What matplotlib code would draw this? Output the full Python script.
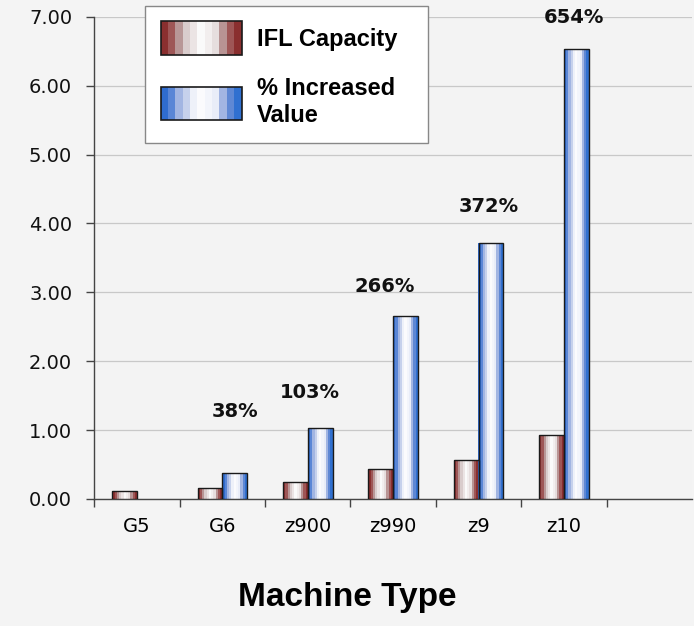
import matplotlib
matplotlib.use("Agg")
import matplotlib.pyplot as plt
import numpy as np
from matplotlib.legend_handler import HandlerBase
from matplotlib.patches import Patch, Rectangle

plt.rcParams["font.family"] = ["Liberation Sans", "DejaVu Sans"]

# данные
machines = ["G5", "G6", "z900", "z990", "z9", "z10"]
ifl_capacity = [0.11, 0.16, 0.24, 0.435, 0.57, 0.925]
increased_value = [np.nan, 0.38, 1.03, 2.66, 3.72, 6.54]
pct_labels = ["", "38%", "103%", "266%", "372%", "654%"]
series_names = ["IFL Capacity", "% Increased\nValue"]
y_ticks = [0, 1, 2, 3, 4, 5, 6, 7]

# смещения подписей процентов (пиксели) относительно верха столбца
label_offsets = [(0, 0), (0, 61), (-10, 35), (-21, 29), (-2, 36), (-2, 31)]

# полосатые "цилиндрические" заливки
red_stripes = ["#8a2f2f", "#9e5656", "#b89696", "#d9cccc", "#ebe4e4", "#fafafa",
               "#f2eeee", "#e6dede", "#b89494", "#9e5656", "#8a2f2f"]
blue_stripes = ["#2f6ccf", "#5a86d6", "#a2b5e2", "#c6d1ec", "#eef1f9", "#fbfbfd",
                "#f3f5fb", "#e9edf8", "#a2b5e2", "#5f88d4", "#3070d0"]

# в оригинале мелкий текст растянут по горизонтали -> берём более широкий шрифт
wide_font = ["DejaVu Sans"]


def striped_bars(ax, x, heights, width, colors):
    """Рисует столбцы из вертикальных полос + контур"""
    x = np.asarray(x, dtype=float)
    h = np.asarray(heights, dtype=float)
    ok = ~np.isnan(h)
    x, h = x[ok], h[ok]
    n = len(colors)
    sw = width / n
    for k, c in enumerate(colors):
        ax.bar(x - width / 2 + (k + 0.5) * sw, h, width=sw * 1.02, color=c,
               linewidth=0, zorder=3)
    ax.bar(x, h, width=width, fill=False, edgecolor="#1a1a1a", linewidth=1.0,
           zorder=4)


class StripeHandler(HandlerBase):
    def __init__(self, colors):
        super().__init__()
        self.colors = colors

    def create_artists(self, legend, orig_handle, xdescent, ydescent, width,
                       height, fontsize, trans):
        arts = []
        n = len(self.colors)
        sw = width / n
        for k, c in enumerate(self.colors):
            r = Rectangle((-xdescent + k * sw, -ydescent), sw * 1.02, height,
                          facecolor=c, edgecolor="none", transform=trans)
            arts.append(r)
        arts.append(Rectangle((-xdescent, -ydescent), width, height,
                              facecolor="none", edgecolor="#1a1a1a", lw=1.2,
                              transform=trans))
        return arts


fig = plt.figure(figsize=(6.94, 6.26), dpi=100, facecolor="#f4f4f4")
ax = fig.add_axes([0.136, 0.203, 0.861, 0.770])
ax.set_facecolor("#f3f3f3")

x = np.arange(len(machines))
bw = 0.29
striped_bars(ax, x - bw / 2, ifl_capacity, bw, red_stripes)
striped_bars(ax, x + bw / 2, increased_value, bw, blue_stripes)

for xi, v, lab, (dx, dy) in zip(x, increased_value, pct_labels, label_offsets):
    if not lab:
        continue
    ax.annotate(lab, xy=(xi + bw / 2, v), xytext=(dx * 0.72, dy * 0.72),
                textcoords="offset points", ha="center", va="center",
                fontsize=14, fontweight="bold", color="#111111",
                family=wide_font)

ax.set_xlim(-0.5, 6.5)
ax.set_ylim(0, 7)
ax.set_yticks(y_ticks)
ax.set_yticklabels([f"{t:.2f}" for t in y_ticks], family=wide_font)
ax.yaxis.grid(True, color="#c8c8c8", linewidth=0.9, zorder=0)
ax.set_axisbelow(True)

ax.set_xticks(x)
ax.set_xticklabels(machines, family=wide_font)
ax.set_xticks(np.arange(-0.5, 6.6, 1.0)[:-1], minor=True)
ax.tick_params(axis="x", which="major", length=0, pad=13, labelsize=14)
ax.tick_params(axis="x", which="minor", length=6, width=1, color="#444444")
ax.tick_params(axis="y", length=6, width=1, color="#444444", pad=10,
               labelsize=14, labelcolor="#111111")

for s in ["top", "right"]:
    ax.spines[s].set_visible(False)
for s in ["left", "bottom"]:
    ax.spines[s].set_color("#444444")
    ax.spines[s].set_linewidth(1.0)

fig.text(0.5, 0.046, "Machine Type", ha="center", va="center", fontsize=24,
         fontweight="bold")

h_red = Patch()
h_blue = Patch()
leg = ax.legend([h_red, h_blue], series_names,
                handler_map={h_red: StripeHandler(red_stripes),
                             h_blue: StripeHandler(blue_stripes)},
                loc="upper left", bbox_to_anchor=(0.0847, 0.5, 0.4736, 0.5228),
                mode="expand", borderaxespad=0,
                prop={"weight": "bold", "size": 17}, handlelength=3.43,
                handleheight=1.8, handletextpad=0.64, labelspacing=0.95,
                borderpad=0.66, fancybox=False, framealpha=1)
leg.get_frame().set_edgecolor("#888888")
leg.get_frame().set_linewidth(1.0)
leg.set_zorder(5)

fig.savefig("out.png", dpi=100, facecolor=fig.get_facecolor())
